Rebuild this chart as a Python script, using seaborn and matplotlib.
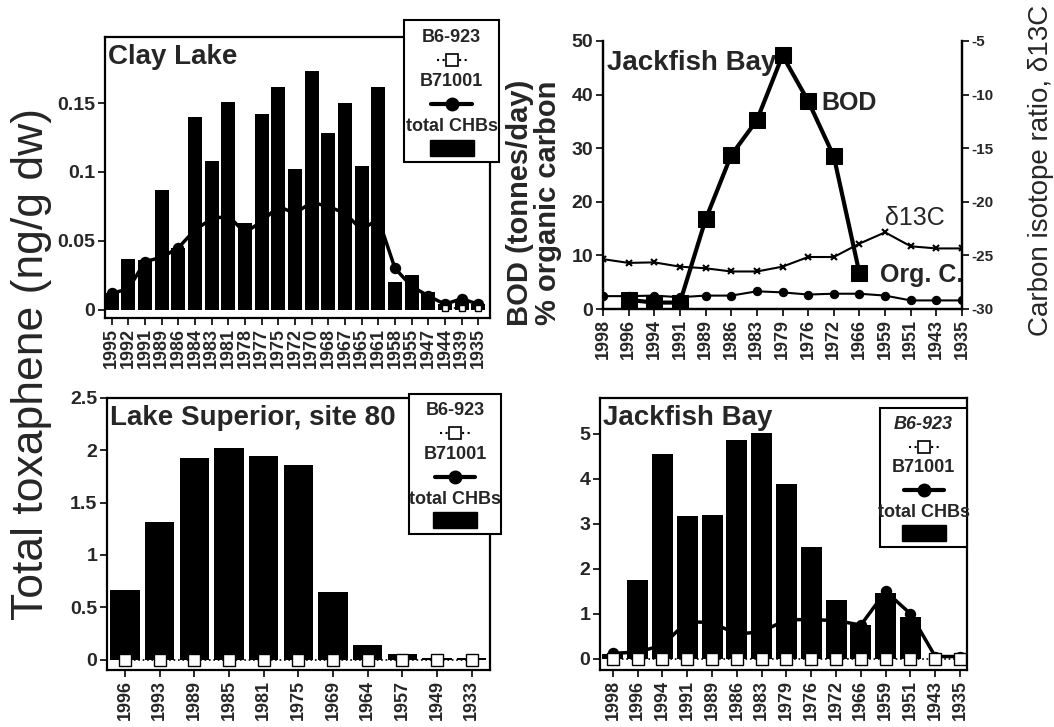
import numpy as np
import matplotlib
matplotlib.use("Agg")
import matplotlib.pyplot as plt
from matplotlib.lines import Line2D
from matplotlib.patches import Rectangle
import seaborn as sns

nan = np.nan

# Clay Lake (ng/g dw)
clay_years = ['1995', '1992', '1991', '1989', '1986', '1984', '1983', '1981', '1978', '1977', '1975', '1972',
              '1970', '1968', '1967', '1965', '1961', '1958', '1955', '1947', '1944', '1939', '1935']
clay_chb = [0.012, 0.037, 0.036, 0.087, 0.045, 0.140, 0.108, 0.151, 0.063, 0.142, 0.162, 0.102,
            0.173, 0.128, 0.150, 0.104, 0.162, 0.020, 0.025, 0.013, 0.004, 0.006, 0.004]
clay_b71001 = [0.012, 0.015, 0.035, 0.038, 0.045, 0.058, 0.066, 0.068, 0.056, 0.064, 0.075, 0.070,
               0.078, 0.075, 0.070, 0.058, 0.066, 0.030, 0.017, 0.010, 0.004, 0.008, 0.004]
clay_b6923 = [nan] * 20 + [0.001, 0.001, 0.001]

# Lake Superior, site 80
sup_years = ['1996', '1993', '1989', '1985', '1981', '1975', '1969', '1964', '1957', '1949', '1933']
sup_chb = [0.66, 1.31, 1.93, 2.02, 1.95, 1.86, 0.65, 0.14, 0.05, 0.01, 0.01]
sup_b6923 = [0.0] * 11

# Jackfish Bay
jb_years = ['1998', '1996', '1994', '1991', '1989', '1986', '1983', '1979', '1976', '1972', '1966',
            '1959', '1951', '1943', '1935']
jb_chb = [0.10, 1.75, 4.56, 3.18, 3.20, 4.86, 5.02, 3.88, 2.49, 1.30, 0.74, 1.47, 0.93, 0.0, 0.0]
jb_b71001 = [0.12, 0.15, 0.30, 0.83, 0.80, 0.55, 0.60, 0.87, 0.87, 0.85, 0.75, 1.50, 1.00, 0.05, 0.05]
jb_b6923 = [0.0] * 15

# Jackfish Bay history: BOD, organic carbon, d13C
bod = [nan, 1.7, 1.2, 1.2, 16.7, 28.7, 35.2, 47.3, 38.8, 28.5, 6.7, nan, nan, nan, nan]
org_c = [2.4, 2.4, 2.5, 2.2, 2.5, 2.5, 3.3, 3.1, 2.7, 2.85, 2.85, 2.5, 1.6, 1.6, 1.6]
d13c = [-25.35, -25.7, -25.65, -26.05, -26.2, -26.5, -26.5, -26.05, -25.15, -25.15, -23.9, -22.85,
        -24.15, -24.35, -24.35]

sns.set_style("ticks")
plt.rcParams['font.family'] = ['Liberation Sans', 'DejaVu Sans']
plt.rcParams['font.weight'] = 'bold'
plt.rcParams['axes.linewidth'] = 1.6
plt.rcParams['xtick.major.width'] = 1.4
plt.rcParams['ytick.major.width'] = 1.4
plt.rcParams['xtick.major.size'] = 5
plt.rcParams['ytick.major.size'] = 5
plt.rcParams['axes.edgecolor'] = 'black'

W, H = 1054, 727
fig = plt.figure(figsize=(W / 100, H / 100), dpi=100)


def px_axes(left, top, right, bottom):
    return fig.add_axes([left / W, 1 - bottom / H, (right - left) / W, (bottom - top) / H])


def bar_panel(ax, years, chb, b71001, b6923, ylim, yticks, xlim, title, sq_size):
    pos = np.arange(len(years))
    sns.barplot(x=pos, y=chb, native_scale=True, color='black', saturation=1, width=0.85,
                linewidth=0, ax=ax, zorder=2)
    if b71001 is not None:
        sns.lineplot(x=pos, y=b71001, color='black', lw=2.5, marker='o', markersize=7,
                     markerfacecolor='black', markeredgecolor='black', markeredgewidth=1.2,
                     ax=ax, zorder=3)
    sns.lineplot(x=pos, y=b6923, color='black', lw=1.2, linestyle=':', marker='s',
                 markersize=sq_size, markerfacecolor='white', markeredgecolor='black',
                 markeredgewidth=1, ax=ax, zorder=4)
    ax.set_xlim(*xlim)
    ax.set_ylim(*ylim)
    ax.set_xticks(pos)
    ax.set_xticklabels(years, rotation=90, fontsize=13, fontweight='bold')
    ax.set_yticks(yticks)
    ax.set_yticklabels([f'{t:g}' for t in yticks], fontsize=14, fontweight='bold')
    ax.tick_params(direction='out', pad=2)
    ax.set_xlabel('')
    ax.set_ylabel('')
    for s in ax.spines.values():
        s.set_visible(True)
    ax.text(0.008, 0.975, title, transform=ax.transAxes, va='top', ha='left',
            fontsize=20, fontweight='bold')


def draw_key(left, top, width, height, italic=False):
    fx = lambda px: px / W
    fy = lambda py: 1 - py / H
    fig.patches.append(Rectangle((fx(left), fy(top + height)), width / W, height / H,
                                 transform=fig.transFigure, facecolor='white',
                                 edgecolor='black', lw=1.5, zorder=5))
    cx = left + width / 2
    rows = [0.12, 0.28, 0.43, 0.59, 0.75, 0.90]
    ys = [top + r * height for r in rows]
    fig.text(fx(cx), fy(ys[0]), 'B6-923', ha='center', va='center', fontsize=13,
             fontweight='bold', style='italic' if italic else 'normal', zorder=6)
    fig.add_artist(Line2D([fx(cx - 15), fx(cx + 15)], [fy(ys[1])] * 2, transform=fig.transFigure,
                          color='black', lw=1.5, ls=':', zorder=6))
    fig.add_artist(Line2D([fx(cx)], [fy(ys[1])], transform=fig.transFigure, marker='s', ms=9,
                          mfc='white', mec='black', mew=1.2, zorder=7))
    fig.text(fx(cx), fy(ys[2]), 'B71001', ha='center', va='center', fontsize=13,
             fontweight='bold', zorder=6)
    fig.add_artist(Line2D([fx(cx - 20), fx(cx + 20)], [fy(ys[3])] * 2, transform=fig.transFigure,
                          color='black', lw=3, zorder=6))
    fig.add_artist(Line2D([fx(cx)], [fy(ys[3])], transform=fig.transFigure, marker='o', ms=9,
                          mfc='black', mec='black', zorder=7))
    fig.text(fx(cx), fy(ys[4]), 'total CHBs', ha='center', va='center', fontsize=13,
             fontweight='bold', zorder=6)
    fig.patches.append(Rectangle((fx(cx - 22), fy(ys[5] + 8)), 44 / W, 16 / H,
                                 transform=fig.transFigure, facecolor='black',
                                 edgecolor='black', zorder=6))


# Clay Lake
ax1 = px_axes(105, 37, 490, 318)
bar_panel(ax1, clay_years, clay_chb, clay_b71001, clay_b6923, (-0.006, 0.198),
          [0, 0.05, 0.1, 0.15], (-0.4, 22.7), 'Clay Lake', 5)

# Lake Superior
ax3 = px_axes(107, 398, 490, 670)
bar_panel(ax3, sup_years, sup_chb, None, sup_b6923, (-0.1, 2.5),
          [0, 0.5, 1, 1.5, 2, 2.5], (-0.52, 10.53), 'Lake Superior, site 80', 8)

# Jackfish Bay toxaphene
ax4 = px_axes(600, 398, 967, 670)
bar_panel(ax4, jb_years, jb_chb, jb_b71001, jb_b6923, (-0.25, 5.8),
          [0, 1, 2, 3, 4, 5], (-0.52, 14.28), 'Jackfish Bay', 8)

# Jackfish Bay BOD / organic carbon / d13C
ax2 = px_axes(603, 41, 962, 309)
pos = np.arange(len(jb_years))
sns.lineplot(x=pos, y=org_c, color='black', lw=1.5, marker='o', markersize=6,
             markeredgecolor='black', ax=ax2, zorder=3)
sns.lineplot(x=pos, y=bod, color='black', lw=3, marker='s', markersize=11,
             markeredgecolor='black', ax=ax2, zorder=4)
ax2.set_xlim(0, 14)
ax2.set_ylim(0, 50)
ax2.set_xticks(pos)
ax2.set_xticklabels(jb_years, rotation=90, fontsize=13, fontweight='bold')
ax2.set_yticks([0, 10, 20, 30, 40, 50])
ax2.set_yticklabels(['0', '10', '20', '30', '40', '50'], fontsize=14, fontweight='bold')
ax2.tick_params(direction='out', pad=2)
ax2.spines['top'].set_visible(False)
ax2.set_xlabel('')
ax2.set_ylabel('')
ax2b = ax2.twinx()
sns.lineplot(x=pos, y=d13c, color='black', lw=1.5, marker='x', markersize=5,
             markeredgecolor='black', markeredgewidth=1.5, ax=ax2b)
ax2b.set_ylim(-30, -5)
ax2b.set_yticks([-30, -25, -20, -15, -10, -5])
ax2b.set_yticklabels(['-30', '-25', '-20', '-15', '-10', '-5'], fontsize=11, fontweight='bold')
ax2b.tick_params(direction='out', pad=2)
ax2b.spines['top'].set_visible(False)
ax2b.set_ylabel('')
ax2.text(0.012, 0.965, 'Jackfish Bay', transform=ax2.transAxes, va='top', ha='left',
         fontsize=20, fontweight='bold')
ax2.text(8.5, 38.5, 'BOD', fontsize=18, fontweight='bold', va='center', ha='left')
ax2.text(11.0, 17.0, 'δ13C', fontsize=18, fontweight='normal', va='center', ha='left')
ax2.text(10.8, 6.3, 'Org. C.', fontsize=18, fontweight='bold', va='center', ha='left')

# axis labels
fig.text(32 / W, 1 - 364 / H, 'Total toxaphene (ng/g dw)', rotation=90, ha='center', va='center',
         fontsize=32, fontweight='normal')
fig.text(520 / W, 1 - 203 / H, 'BOD (tonnes/day)', rotation=90, ha='center', va='center',
         fontsize=21, fontweight='bold')
fig.text(548 / W, 1 - 203 / H, '% organic carbon', rotation=90, ha='center', va='center',
         fontsize=21, fontweight='bold')
fig.text(1041 / W, 1 - 170 / H, 'Carbon isotope ratio, δ13C', rotation=90, ha='center', va='center',
         fontsize=20, fontweight='normal')

# legend keys
draw_key(404, 20, 95, 142)
draw_key(409, 394, 92, 140)
draw_key(880, 408, 87, 139, italic=True)

fig.savefig('out.png', dpi=100, facecolor='white')
